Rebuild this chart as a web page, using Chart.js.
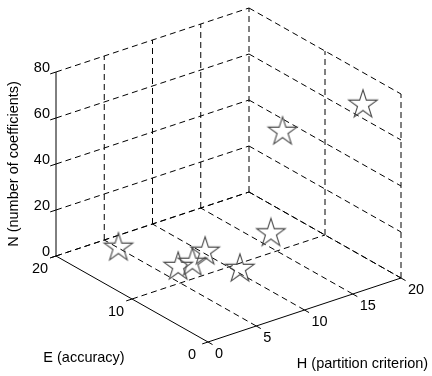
<!DOCTYPE html>
<html>
<head>
<meta charset="utf-8">
<script src="https://cdn.jsdelivr.net/npm/chart.js@4.4.1/dist/chart.umd.min.js"></script>
<style>
  html, body { margin: 0; background: #fff; }
  #wrap { width: 432px; height: 376px; }
</style>
</head>
<body>
<div id="wrap"><canvas id="plot3d"></canvas></div>
<script>
// measured points: H (partition criterion), E (accuracy), N (number of coefficients)
const H = [4.5, 6.2, 7.6, 9.7, 10, 14, 15.6, 20];
const E = [17.5, 11.8, 11.7, 12.7, 8.5, 9.5, 10, 5];
const N = [2, 2, 2, 2, 2, 10, 51, 66];

const hTicks = [0, 5, 10, 15, 20];
const eTicks = [0, 10, 20];
const nTicks = [0, 20, 40, 60, 80];

const hMax = 20, eMax = 20, nMax = 80;

// oblique view: screen offset per data unit of each axis
const view = { h: [9.65, 3.2], e: [-7.6, 4.3], n: [0, 2.3] };
function proj(h, e, n) {
    return {
        x: h * view.h[0] + e * view.e[0] + n * view.n[0],
        y: h * view.h[1] + e * view.e[1] + n * view.n[1]
    };
}

// pentagram marker
function makeStar(r) {
    const c = document.createElement('canvas');
    const s = Math.ceil(2 * r + 4);
    c.width = s; c.height = s;
    const g = c.getContext('2d');
    g.translate(s / 2, s / 2);
    g.beginPath();
    for (let i = 0; i < 10; i++) {
        const rr = i % 2 ? r * 0.382 : r;
        const a = -Math.PI / 2 + i * Math.PI / 5;
        g.lineTo(rr * Math.cos(a), rr * Math.sin(a));
    }
    g.closePath();
    g.strokeStyle = '#4a4a4a';
    g.lineWidth = 1.1;
    g.stroke();
    return c;
}

function seg(a, b, dashed) {
    return {
        data: [proj(...a), proj(...b)],
        showLine: true,
        pointRadius: 0,
        borderColor: '#000',
        borderWidth: 1,
        borderDash: dashed ? [6, 4] : [],
        clip: false
    };
}

const lines = [];
// back wall E = 20
nTicks.forEach(n => lines.push(seg([0, eMax, n], [hMax, eMax, n], true)));
hTicks.filter(h => h > 0).forEach(h => lines.push(seg([h, eMax, 0], [h, eMax, nMax], true)));
// side wall H = 20
nTicks.forEach(n => lines.push(seg([hMax, eMax, n], [hMax, 0, n], true)));
eTicks.filter(e => e < eMax).forEach(e => lines.push(seg([hMax, e, 0], [hMax, e, nMax], true)));
// floor N = 0
eTicks.filter(e => e > 0).forEach(e => lines.push(seg([0, e, 0], [hMax, e, 0], true)));
hTicks.filter(h => h > 0).forEach(h => lines.push(seg([h, 0, 0], [h, eMax, 0], true)));
// axes
lines.push(seg([0, 0, 0], [hMax, 0, 0], false));
lines.push(seg([0, 0, 0], [0, eMax, 0], false));
lines.push(seg([0, eMax, 0], [0, eMax, nMax], false));
// tick marks
const tk = 0.6;
hTicks.forEach(h => lines.push(seg([h, 0, 0], [h, -tk, 0], false)));
eTicks.forEach(e => lines.push(seg([0, e, 0], [-tk, e, 0], false)));
nTicks.forEach(n => lines.push(seg([0, eMax, n], [-tk, eMax, n], false)));

const stars = {
    data: H.map((h, i) => proj(h, E[i], N[i])),
    pointStyle: makeStar(15),
    pointRadius: 15,
    showLine: false,
    clip: false
};

const font = '14.5px "Liberation Sans", Arial, sans-serif';

const axisText = {
    id: 'axisText',
    afterDatasetsDraw(chart) {
        const ctx = chart.ctx;
        const sx = chart.scales.x, sy = chart.scales.y;
        const at = p => [sx.getPixelForValue(p.x), sy.getPixelForValue(p.y)];
        ctx.save();
        ctx.font = font;
        ctx.fillStyle = '#000';
        ctx.textBaseline = 'middle';

        ctx.textAlign = 'right';
        nTicks.forEach(n => {
            const [x, y] = at(proj(0, eMax, n));
            ctx.fillText(String(n), x - 6, y - 4);
        });
        ctx.textAlign = 'center';
        eTicks.forEach(e => {
            const [x, y] = at(proj(0, e, 0));
            ctx.fillText(String(e), x - 16, y + 13);
        });
        ctx.textAlign = 'left';
        hTicks.forEach(h => {
            const [x, y] = at(proj(h, 0, 0));
            ctx.fillText(String(h), x + 7, y + 12);
        });

        ctx.textAlign = 'center';
        let [x, y] = at(proj(0, eMax / 2, 0));
        ctx.fillText('E (accuracy)', x - 48, y + 59);
        [x, y] = at(proj(hMax / 2, 0, 0));
        ctx.fillText('H (partition criterion)', x + 58, y + 54);
        [x, y] = at(proj(0, eMax, nMax / 2));
        ctx.translate(x - 42, y);
        ctx.rotate(-Math.PI / 2);
        ctx.fillText('N (number of coefficients)', 0, 0);
        ctx.restore();
    }
};

new Chart(document.getElementById('plot3d'), {
    type: 'scatter',
    data: { datasets: [stars, ...lines] },
    options: {
        responsive: true,
        maintainAspectRatio: false,
        animation: false,
        events: [],
        layout: { padding: 0, autoPadding: false },
        plugins: { legend: { display: false }, tooltip: { enabled: false } },
        scales: {
            x: { type: 'linear', display: false, min: -208, max: 224 },
            y: { type: 'linear', display: false, min: -34, max: 342 }
        }
    },
    plugins: [axisText]
});
</script>
</body>
</html>
